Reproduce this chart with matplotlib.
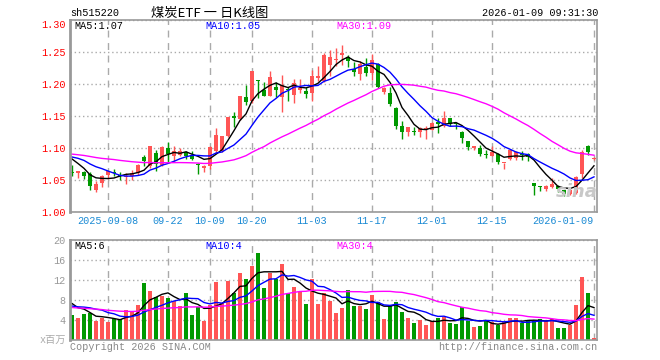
import numpy as np
import pandas as pd
import matplotlib
matplotlib.use("Agg")
import matplotlib.pyplot as plt

plt.rcParams['font.family'] = ['Liberation Mono', 'Noto Sans CJK SC', 'DejaVu Sans']

# daily candles, 2025-08-29 .. 2026-01-09
open_ = [1.063, 1.0604, 1.0625, 1.059, 1.035, 1.046, 1.058, 1.0625, 1.058, 1.0547,
         1.0557, 1.061, 1.0854, 1.0714, 1.092, 1.074, 1.1, 1.087, 1.0896, 1.0932,
         1.0896, 1.075, 1.0688, 1.0714, 1.0948, 1.096, 1.118, 1.150, 1.146, 1.179,
         1.173, 1.207, 1.191, 1.182, 1.196, 1.18, 1.1915, 1.183, 1.191, 1.1885,
         1.186, 1.2094, 1.204, 1.23, 1.237, 1.245, 1.2427, 1.2234, 1.2156, 1.226,
         1.2167, 1.2312, 1.187, 1.1854, 1.162, 1.1339, 1.1245, 1.1255, 1.1245, 1.129,
         1.1288, 1.14, 1.134, 1.147, 1.138, 1.1251, 1.1105, 1.1, 1.1, 1.09,
         1.088, 1.0906, 1.076, 1.0825, 1.0844, 1.091, 1.0912, 1.0453, 1.0391, 1.0359,
         1.0391, 1.0411, 1.0349, 1.0286, 1.0297, 1.0594, 1.1026, 1.0828]
high = [1.074, 1.0646, 1.0646, 1.0625, 1.048, 1.058, 1.0646, 1.067, 1.062, 1.061,
        1.066, 1.075, 1.0896, 1.1036, 1.0964, 1.1026, 1.11, 1.1036, 1.1, 1.0958,
        1.0958, 1.0766, 1.074, 1.1026, 1.131, 1.119, 1.149, 1.156, 1.182, 1.199,
        1.221, 1.207, 1.2026, 1.221, 1.2026, 1.2146, 1.196, 1.208, 1.208, 1.196,
        1.222, 1.2276, 1.248, 1.2526, 1.256, 1.261, 1.246, 1.234, 1.2365, 1.2406,
        1.2469, 1.2323, 1.1958, 1.1958, 1.1646, 1.1427, 1.1333, 1.1323, 1.1333, 1.135,
        1.14, 1.147, 1.1576, 1.147, 1.1393, 1.1262, 1.1115, 1.1037, 1.1052, 1.0963,
        1.1026, 1.0922, 1.0765, 1.0974, 1.0948, 1.0958, 1.092, 1.0453, 1.0401, 1.0422,
        1.0531, 1.0417, 1.035, 1.0375, 1.0557, 1.0964, 1.1052, 1.0859]
low = [1.056, 1.053, 1.052, 1.035, 1.031, 1.0385, 1.0515, 1.057, 1.0495, 1.044,
       1.0495, 1.058, 1.072, 1.0688, 1.0635, 1.0714, 1.0764, 1.079, 1.087, 1.083,
       1.082, 1.0592, 1.062, 1.067, 1.092, 1.094, 1.117, 1.133, 1.144, 1.167,
       1.17, 1.178, 1.181, 1.181, 1.18, 1.157, 1.174, 1.170, 1.186, 1.178,
       1.174, 1.204, 1.2026, 1.212, 1.2276, 1.23, 1.2266, 1.213, 1.2063, 1.213,
       1.2063, 1.1938, 1.1844, 1.1661, 1.1297, 1.114, 1.1193, 1.1208, 1.1167, 1.114,
       1.1276, 1.123, 1.1328, 1.134, 1.129, 1.1079, 1.0963, 1.0974, 1.087, 1.0843,
       1.087, 1.0749, 1.067, 1.0805, 1.0807, 1.0818, 1.079, 1.0271, 1.0333, 1.0333,
       1.0375, 1.0313, 1.0245, 1.0266, 1.0281, 1.0531, 1.0885, 1.0807]
close = [1.0615, 1.0646, 1.057, 1.040, 1.044, 1.057, 1.0635, 1.061, 1.0557, 1.0568,
         1.061, 1.074, 1.079, 1.1026, 1.0755, 1.1015, 1.091, 1.0948, 1.0958, 1.087,
         1.0833, 1.074, 1.0714, 1.1015, 1.1208, 1.118, 1.1484, 1.147, 1.181, 1.1717,
         1.22, 1.205, 1.182, 1.211, 1.19, 1.199, 1.19, 1.2016, 1.194, 1.185,
         1.213, 1.212, 1.246, 1.242, 1.239, 1.2485, 1.2354, 1.2182, 1.2312, 1.2167,
         1.2375, 1.1958, 1.1938, 1.1688, 1.1339, 1.1245, 1.1333, 1.1245, 1.1313, 1.130,
         1.1393, 1.138, 1.147, 1.1377, 1.137, 1.1157, 1.101, 1.1026, 1.0906, 1.0895,
         1.0932, 1.078, 1.0765, 1.0965, 1.094, 1.0896, 1.0856, 1.0401, 1.0385, 1.0401,
         1.0443, 1.0365, 1.0286, 1.0349, 1.0542, 1.0938, 1.0938, 1.0844]
volume = [5.0, 4.4, 5.2, 5.4, 3.8, 4.5, 3.6, 4.2, 4.2, 6.0,
          5.8, 7.0, 11.5, 9.8, 8.6, 8.8, 8.4, 7.8, 6.8, 9.4,
          5.0, 6.6, 3.8, 7.0, 11.6, 7.4, 11.8, 9.4, 13.4, 12.2,
          14.8, 17.4, 10.4, 13.4, 12.2, 15.2, 9.4, 10.6, 9.6, 7.2,
          12.2, 7.2, 9.4, 7.8, 5.4, 6.4, 10.0, 6.8, 6.8, 6.2,
          9.0, 7.6, 4.2, 6.8, 7.6, 5.6, 4.4, 3.4, 4.0, 3.0,
          3.8, 4.4, 4.6, 3.4, 3.2, 6.6, 3.8, 2.6, 2.8, 3.8,
          3.6, 3.0, 3.6, 4.4, 4.4, 3.4, 3.8, 3.8, 4.2, 3.8,
          4.2, 2.4, 2.4, 3.0, 7.0, 12.6, 9.4, 0.4]

# sessions before the window, only needed to start the moving averages
pre_close = [1.095, 1.09, 1.088, 1.094, 1.097, 1.09, 1.089, 1.0945,
             1.088, 1.092, 1.096, 1.1, 1.094, 1.09, 1.097, 1.095, 1.09, 1.093, 1.091, 1.091,
             1.085, 1.09, 1.095, 1.088, 1.087, 1.10, 1.095, 1.09, 1.068]
pre_volume = [7.5, 6.8, 7.9, 6.4, 7.2, 8.1, 6.6, 7.0, 6.9, 6.7,
              5.2, 6.1, 5.8, 4.9, 5.5, 6.3, 5.4, 5.9, 5.2, 5.6,
              6.0, 5.8, 6.9, 6.5, 6.3, 8.6, 6.6, 8.8, 7.5]

tick_idx = [6, 16, 23, 30, 40, 50, 60, 70, 87]
tick_lab = ['2025-09-08', '09-22', '10-09', '10-20', '11-03', '11-17', '12-01', '12-15', '2026-01-09']
price_ticks = [1.00, 1.05, 1.10, 1.15, 1.20, 1.25, 1.30]
vol_ticks = [4, 8, 12, 16, 20]

RED = '#ff5555'
GREEN = '#009900'
GRID = '#aaaaaa'
W, H = 660, 360


def ma(pre, vals, n):
    s = pd.Series(pre + vals).rolling(n).mean().to_numpy()
    return s[len(pre):]


def px(x, y):
    return x / W, 1 - y / H


def style_axes(ax):
    for sp in ax.spines.values():
        sp.set_color('#999999')
        sp.set_linewidth(1.2)
    ax.spines['left'].set_linewidth(2)
    ax.tick_params(length=0)
    ax.set_xticks(tick_idx)
    ax.grid(axis='x', color=GRID, lw=1, linestyle=(0, (5, 4)))
    ax.grid(axis='y', color=GRID, lw=1, linestyle=(0, (1, 2)))
    ax.set_axisbelow(True)
    ax.set_xlim(-0.33, 87.5)


x = np.arange(len(close))
o = np.array(open_)
c = np.array(close)
col = np.where(c >= o, RED, GREEN)

fig = plt.figure(figsize=(6.6, 3.6), dpi=100)
ax = fig.add_axes([70 / W, 1 - 212 / H, 527 / W, 192 / H])
axv = fig.add_axes([70 / W, 1 - 340 / H, 527 / W, 100 / H])

# price panel
style_axes(ax)
ax.set_ylim(1.00, 1.30)
ax.set_yticks(price_ticks)
ax.set_yticklabels(['%.2f' % t for t in price_ticks], color='#ff0000', fontsize=7.3)
ax.tick_params(axis='y', pad=3)
ax.get_yticklabels()[-1].set_va('top')
ax.set_xticklabels(tick_lab, color='#1a8ad4', fontsize=7.3)
ax.tick_params(axis='x', pad=3)
xl = ax.get_xticklabels()
xl[-1].set_ha('right')
xl[-1].set_x(87.5)

ax.vlines(x, low, high, colors=col, lw=1)
body = np.maximum(np.abs(c - o), 0.0015)
ax.bar(x, body, bottom=np.minimum(o, c), width=0.82, color=col, linewidth=0)
ax.plot(x, ma(pre_close, close, 5), color='black', lw=1)
ax.plot(x, ma(pre_close, close, 10), color='#0000ff', lw=1)
ax.plot(x, ma(pre_close, close, 30), color='#ff00ff', lw=1)

# volume panel
style_axes(axv)
axv.set_ylim(0, 20)
axv.set_yticks(vol_ticks)
axv.set_yticklabels([str(t) for t in vol_ticks], color='#999999', fontsize=7.3)
axv.tick_params(axis='y', pad=3)
axv.set_xticklabels([])
axv.bar(x, volume, width=0.82, color=col, linewidth=0)
axv.plot(x, ma(pre_volume, volume, 5), color='black', lw=1)
axv.plot(x, ma(pre_volume, volume, 10), color='#0000ff', lw=1)
axv.plot(x, ma(pre_volume, volume, 30), color='#ff00ff', lw=1)

# header and labels
fig.text(*px(70, 13), 'sh515220', fontsize=7.3, va='center')
fig.text(*px(151, 13), '煤炭ETF 一 日K线图', fontsize=9.5, va='center',
         family=['Noto Sans CJK SC', 'DejaVu Sans'])
fig.text(*px(598, 13), '2026-01-09 09:31:30', fontsize=7.3, va='center', ha='right')

ma_p = [ma(pre_close, close, n)[-1] for n in (5, 10, 30)]
ma_v = [ma(pre_volume, volume, n)[-1] for n in (5, 10, 30)]
for xx, name, color, vp, vv in [(74, 'MA5', 'black', ma_p[0], ma_v[0]),
                                (205, 'MA10', '#0000ff', ma_p[1], ma_v[1]),
                                (336, 'MA30', '#ff00ff', ma_p[2], ma_v[2])]:
    fig.text(*px(xx, 26), '%s:%.2f' % (name, vp), color=color, fontsize=7.3, va='center')
    fig.text(*px(xx, 246), '%s:%d' % (name, vv), color=color, fontsize=7.3, va='center')

fig.text(*px(66, 340), 'x百万', color='#aaaaaa', fontsize=7.3, va='center', ha='right')
fig.text(*px(70, 347), 'Copyright 2026 SINA.COM', color='#888888', fontsize=7.3, va='center')
fig.text(*px(597, 347), 'http://finance.sina.com.cn', color='#888888', fontsize=7.3,
         va='center', ha='right')
fig.text(*px(577, 192), 'sina', color='#c8c8c8', fontsize=13, style='italic',
         weight='bold', va='center', ha='center', family='DejaVu Sans')

fig.savefig('out.png', dpi=100)
